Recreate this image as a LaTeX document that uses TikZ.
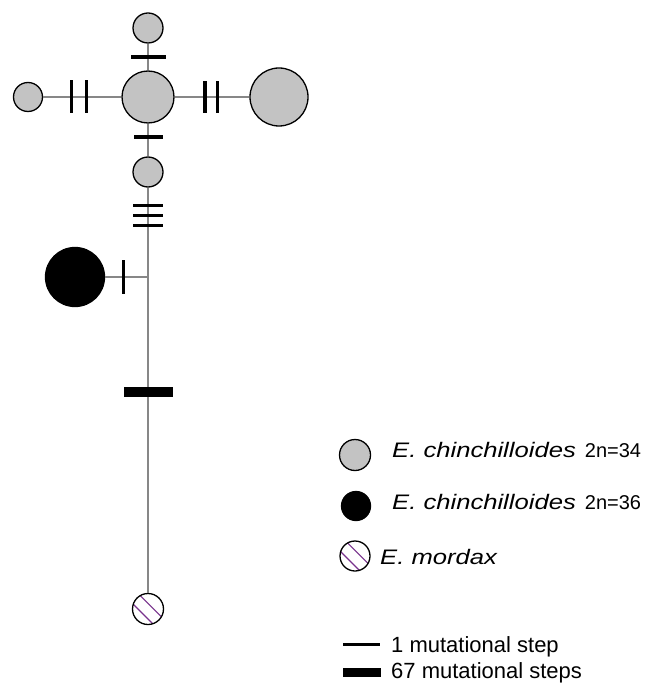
\documentclass[tikz,border=0pt]{standalone}
\usepackage{fontspec}
\setmainfont{Liberation Sans}
\definecolor{hapgray}{RGB}{195,195,195}
\definecolor{edgegray}{RGB}{135,135,135}
\definecolor{hatchpurple}{RGB}{120,50,140}
\begin{document}
\begin{tikzpicture}[x=1pt,y=-1pt,
  hap/.style={circle, draw=black, line width=1.3pt, inner sep=0pt, fill=hapgray, minimum size=#1},
  darkhap/.style={hap=#1, fill=black},
  hatched/.style={hap=#1, fill=white,
    path picture={
      \draw[hatchpurple, line width=1.1pt, shift={(path picture bounding box.center)}]
        (-17.2pt,22.8pt) -- (22.8pt,-17.2pt)
        (-25pt,15pt) -- (15pt,-25pt);
    }},
  edge/.style={draw=edgegray, line width=1.3pt},
  mtick/.style={sloped, rectangle, fill=black, inner sep=0pt, minimum width=3.5pt, minimum height=#1},
  mbar/.style={sloped, rectangle, fill=black, inner sep=0pt, minimum width=10pt, minimum height=49pt},
  legtext/.style={anchor=base west, inner sep=0pt, font=\fontsize{21}{25}\selectfont},
  stepsize/.style={font=\fontsize{22}{26}\selectfont}
]
\useasboundingbox (0,0) rectangle (649,684);

% haplotypes of the network
\node[hap=52pt]   (hub)   at (148,97)  {};
\node[hap=30pt]   (top)   at (148,28)  {};
\node[hap=29pt]   (left)  at (28,97)   {};
\node[hap=58pt]   (right) at (279,97)  {};
\node[hap=30pt]   (low)   at (148,172) {};
\node[darkhap=59pt] (black) at (75,277) {};
\node[hatched=31pt] (hatch) at (148,609) {};
\coordinate (j) at (148,277);

% connectors with mutational steps
\draw[edge] (hub) -- node[mtick=35pt, pos=0.5] {} (top);
\draw[edge] (hub) -- node[mtick=29pt, pos=0.41] {} (low);
\draw[edge] (hub) -- node[mtick=33pt, pos=0.446] {} node[mtick=33pt, pos=0.637] {} (left);
\draw[edge] (hub) -- node[mtick=32pt, pos=0.403] {} node[mtick=32pt, pos=0.571] {} (right);
\draw[edge] (low) -- node[mtick=30pt, pos=0.2] {} node[mtick=30pt, pos=0.311] {} node[mtick=30pt, pos=0.422] {} (j);
\draw[edge] (j) -- node[mtick=34pt, pos=0.575] {} (black);
\draw[edge] (j) -- node[mbar, pos=0.363] {} (hatch);

% legend
\node[hap=31pt]     (k1) at (355,455) {};
\node[darkhap=29pt] (k2) at (356,506) {};
\node[hatched=30pt] (k3) at (355,556) {};
\node[legtext] (t1) at (392,457.5) {\scalebox{1.22}[1]{\itshape E. chinchilloides}\hspace{9pt}{\fontsize{20}{24}\selectfont 2n=34}};
\node[legtext] (t2) at (392,509) {\scalebox{1.22}[1]{\itshape E. chinchilloides}\hspace{9pt}{\fontsize{20}{24}\selectfont 2n=36}};
\node[legtext] (t3) at (380,564) {\scalebox{1.22}[1]{\itshape E. mordax}};

\coordinate (s1a) at (343,644);
\coordinate (s1b) at (380,644);
\coordinate (s2a) at (343,672.5);
\coordinate (s2b) at (381,672.5);
\draw[line width=3pt] (s1a) -- (s1b);
\draw[line width=9pt] (s2a) -- (s2b);
\node[legtext, stepsize] (t4) at (391,652) {1 mutational step};
\node[legtext, stepsize] (t5) at (391,678.5) {67 mutational steps};
\end{tikzpicture}
\end{document}
